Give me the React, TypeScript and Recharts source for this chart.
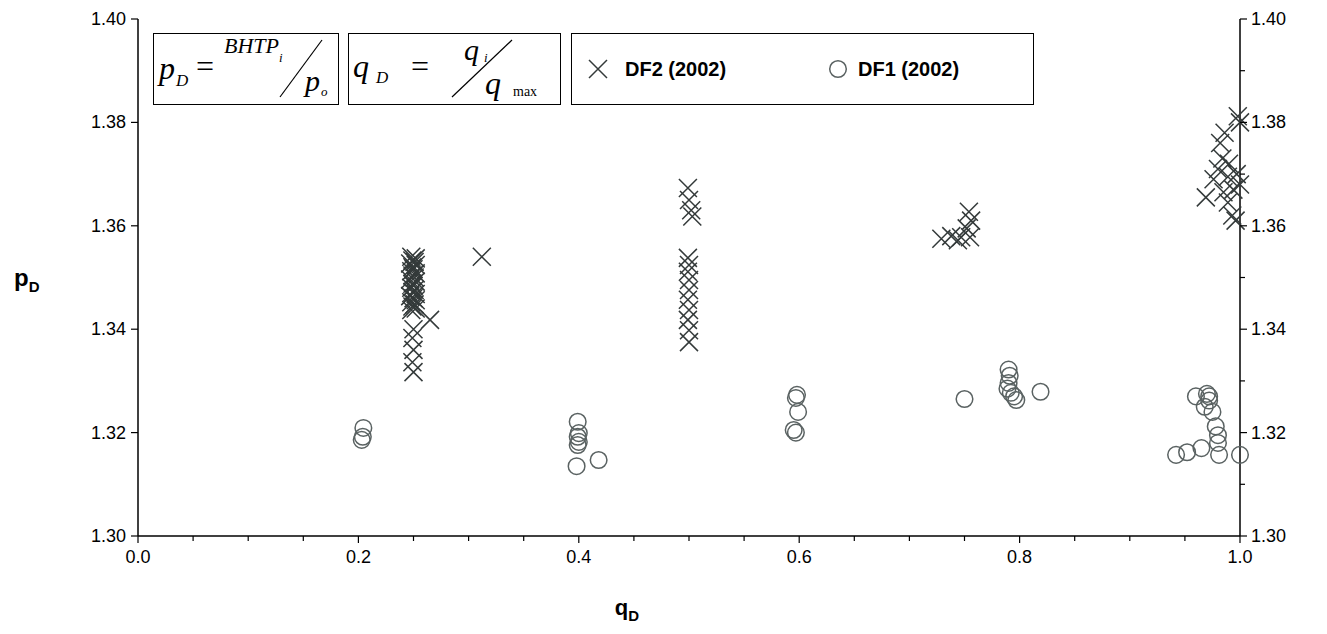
import { ScatterChart, Scatter, XAxis, YAxis } from "recharts";

// axis ticks
const xTicks = [0, 0.05, 0.1, 0.15, 0.2, 0.25, 0.3, 0.35, 0.4, 0.45, 0.5, 0.55, 0.6, 0.65, 0.7, 0.75, 0.8, 0.85, 0.9, 0.95, 1.0];
const xLabels = [0, 0.2, 0.4, 0.6, 0.8, 1.0];
const yLeftTicks = [1.30, 1.32, 1.34, 1.36, 1.38, 1.40];
const yRightTicks = [1.30, 1.31, 1.32, 1.33, 1.34, 1.35, 1.36, 1.37, 1.38, 1.39, 1.40];

// DF2 (2002) - crosses
const df2Points = [
  { q: 0.248, p: 1.3540 }, { q: 0.252, p: 1.3537 }, { q: 0.249, p: 1.3533 }, { q: 0.251, p: 1.3530 },
  { q: 0.247, p: 1.3527 }, { q: 0.252, p: 1.3524 }, { q: 0.249, p: 1.3520 }, { q: 0.250, p: 1.3516 },
  { q: 0.248, p: 1.3512 }, { q: 0.252, p: 1.3508 }, { q: 0.249, p: 1.3504 }, { q: 0.251, p: 1.3500 },
  { q: 0.247, p: 1.3496 }, { q: 0.252, p: 1.3492 }, { q: 0.249, p: 1.3488 }, { q: 0.250, p: 1.3484 },
  { q: 0.248, p: 1.3480 }, { q: 0.251, p: 1.3476 }, { q: 0.249, p: 1.3472 }, { q: 0.252, p: 1.3468 },
  { q: 0.247, p: 1.3464 }, { q: 0.250, p: 1.3460 }, { q: 0.252, p: 1.3456 }, { q: 0.248, p: 1.3452 },
  { q: 0.251, p: 1.3448 }, { q: 0.249, p: 1.3444 }, { q: 0.252, p: 1.3440 }, { q: 0.248, p: 1.3437 },
  { q: 0.250, p: 1.3400 }, { q: 0.249, p: 1.3383 }, { q: 0.250, p: 1.3360 }, { q: 0.249, p: 1.3336 }, { q: 0.250, p: 1.3317 },
  { q: 0.265, p: 1.3418 },
  { q: 0.312, p: 1.3540 },
  { q: 0.499, p: 1.3673 }, { q: 0.500, p: 1.3650 }, { q: 0.502, p: 1.3630 }, { q: 0.503, p: 1.3618 },
  { q: 0.499, p: 1.3538 }, { q: 0.500, p: 1.3524 }, { q: 0.499, p: 1.3511 }, { q: 0.500, p: 1.3495 },
  { q: 0.500, p: 1.3476 }, { q: 0.499, p: 1.3457 }, { q: 0.500, p: 1.3437 }, { q: 0.499, p: 1.3418 },
  { q: 0.500, p: 1.3398 }, { q: 0.500, p: 1.3375 },
  { q: 0.729, p: 1.3575 }, { q: 0.738, p: 1.3580 }, { q: 0.747, p: 1.3578 }, { q: 0.744, p: 1.3572 },
  { q: 0.754, p: 1.3627 }, { q: 0.756, p: 1.3610 }, { q: 0.752, p: 1.3595 }, { q: 0.755, p: 1.3578 },
  { q: 0.969, p: 1.3655 }, { q: 0.976, p: 1.3690 }, { q: 0.980, p: 1.3710 }, { q: 0.984, p: 1.3730 },
  { q: 0.982, p: 1.3760 }, { q: 0.986, p: 1.3780 }, { q: 0.990, p: 1.3720 }, { q: 0.989, p: 1.3695 },
  { q: 0.994, p: 1.3670 }, { q: 0.993, p: 1.3620 }, { q: 0.989, p: 1.3645 }, { q: 1.000, p: 1.3800 },
  { q: 0.998, p: 1.3812 }, { q: 0.997, p: 1.3700 }, { q: 1.000, p: 1.3680 }, { q: 0.996, p: 1.3610 },
  { q: 0.985, p: 1.3665 },
];

// DF1 (2002) - circles
const df1Points = [
  { q: 0.2045, p: 1.3209 }, { q: 0.204, p: 1.3192 }, { q: 0.203, p: 1.3186 },
  { q: 0.399, p: 1.3221 }, { q: 0.400, p: 1.3199 }, { q: 0.399, p: 1.3192 }, { q: 0.400, p: 1.3182 },
  { q: 0.399, p: 1.3176 }, { q: 0.398, p: 1.3135 }, { q: 0.418, p: 1.3147 },
  { q: 0.598, p: 1.3273 }, { q: 0.597, p: 1.3267 }, { q: 0.599, p: 1.3240 }, { q: 0.595, p: 1.3205 }, { q: 0.597, p: 1.3200 },
  { q: 0.750, p: 1.3265 },
  { q: 0.790, p: 1.3322 }, { q: 0.791, p: 1.3310 }, { q: 0.790, p: 1.3296 }, { q: 0.789, p: 1.3285 },
  { q: 0.792, p: 1.3277 }, { q: 0.795, p: 1.3270 }, { q: 0.797, p: 1.3263 }, { q: 0.819, p: 1.3279 },
  { q: 0.942, p: 1.3157 }, { q: 0.952, p: 1.3162 }, { q: 0.960, p: 1.3270 }, { q: 0.965, p: 1.3170 },
  { q: 0.968, p: 1.3250 }, { q: 0.970, p: 1.3275 }, { q: 0.972, p: 1.3270 }, { q: 0.972, p: 1.3262 },
  { q: 0.975, p: 1.3240 }, { q: 0.978, p: 1.3212 }, { q: 0.980, p: 1.3195 }, { q: 0.980, p: 1.3180 },
  { q: 0.981, p: 1.3157 }, { q: 1.000, p: 1.3157 },
];

const W = 1327;
const H = 634;
const font = '"Liberation Sans", Arial, sans-serif';
const serif = '"Liberation Serif", "Times New Roman", serif';

const isMajor = (v: number, list: number[]) => list.some((m) => Math.abs(m - v) < 1e-6);

const XTick = (props: any) => {
  const { x, y, payload } = props;
  const major = isMajor(payload.value, xLabels);
  return (
    <g>
      <line x1={x} y1={y} x2={x} y2={y + (major ? 7 : 5)} stroke="#000" strokeWidth={1.2} />
      {major && (
        <text x={x} y={y + 27} textAnchor="middle" fontFamily={font} fontSize={18} fill="#000">
          {payload.value.toFixed(1)}
        </text>
      )}
    </g>
  );
};

const LeftTick = (props: any) => {
  const { x, y, payload } = props;
  return (
    <g>
      <line x1={x} y1={y} x2={x - 7} y2={y} stroke="#000" strokeWidth={1.2} />
      <text x={x - 12} y={y + 6} textAnchor="end" fontFamily={font} fontSize={18} fill="#000">
        {payload.value.toFixed(2)}
      </text>
    </g>
  );
};

const RightTick = (props: any) => {
  const { x, y, payload } = props;
  const major = isMajor(payload.value, yLeftTicks);
  return (
    <g>
      <line x1={x} y1={y} x2={x + (major ? 7 : 5)} y2={y} stroke="#000" strokeWidth={1.2} />
      {major && (
        <text x={x + 11} y={y + 6} textAnchor="start" fontFamily={font} fontSize={18} fill="#000">
          {payload.value.toFixed(2)}
        </text>
      )}
    </g>
  );
};

const CrossShape = (props: any) => {
  const { cx, cy } = props;
  const s = 9;
  return (
    <path
      d={`M${cx - s},${cy - s}L${cx + s},${cy + s}M${cx - s},${cy + s}L${cx + s},${cy - s}`}
      stroke="#343a3a"
      strokeWidth={1.5}
      fill="none"
    />
  );
};

const CircleShape = (props: any) => {
  const { cx, cy } = props;
  return <circle cx={cx} cy={cy} r={8.3} stroke="#5a6262" strokeWidth={1.5} fill="none" />;
};

function Overlay() {
  return (
    <svg width={W} height={H} style={{ position: "absolute", left: 0, top: 0, pointerEvents: "none" }}>
      {/* formula box 1 */}
      <rect x={153.5} y={33.5} width={185} height={71} fill="#fff" stroke="#000" strokeWidth={1} />
      <text x={159} y={79} fontFamily={serif} fontStyle="italic" fontSize={32} fill="#000">p</text>
      <text x={176} y={86} fontFamily={serif} fontStyle="italic" fontSize={17} fill="#000">D</text>
      <text x={196} y={77} fontFamily={serif} fontSize={32} fill="#000">=</text>
      <text x={224} y={53} fontFamily={serif} fontStyle="italic" fontSize={22} fill="#000">BHTP</text>
      <text x={279} y={62} fontFamily={serif} fontStyle="italic" fontSize={13} fill="#000">i</text>
      <line x1={280} y1={97} x2={322} y2={40} stroke="#000" strokeWidth={1.2} />
      <text x={305} y={91} fontFamily={serif} fontStyle="italic" fontSize={30} fill="#000">p</text>
      <text x={321} y={96} fontFamily={serif} fontStyle="italic" fontSize={13} fill="#000">o</text>
      {/* formula box 2 */}
      <rect x={348.5} y={33.5} width={212} height={71} fill="#fff" stroke="#000" strokeWidth={1} />
      <text x={353} y={77} fontFamily={serif} fontStyle="italic" fontSize={32} fill="#000">q</text>
      <text x={376} y={83} fontFamily={serif} fontStyle="italic" fontSize={17} fill="#000">D</text>
      <text x={411} y={77} fontFamily={serif} fontSize={32} fill="#000">=</text>
      <text x={464} y={60} fontFamily={serif} fontStyle="italic" fontSize={30} fill="#000">q</text>
      <text x={484} y={62} fontFamily={serif} fontStyle="italic" fontSize={13} fill="#000">i</text>
      <line x1={452} y1={97} x2={512} y2={40} stroke="#000" strokeWidth={1.2} />
      <text x={485} y={94} fontFamily={serif} fontStyle="italic" fontSize={32} fill="#000">q</text>
      <text x={513} y={96} fontFamily={serif} fontSize={14} fill="#000">max</text>
      {/* legend box */}
      <rect x={571.5} y={33.5} width={462} height={71} fill="#fff" stroke="#000" strokeWidth={1} />
      <CrossShape cx={598} cy={69} />
      <text x={625} y={76} fontFamily={font} fontWeight="bold" fontSize={20} fill="#000">DF2 (2002)</text>
      <CircleShape cx={838} cy={69} />
      <text x={858} y={76} fontFamily={font} fontWeight="bold" fontSize={20} fill="#000">DF1 (2002)</text>
      {/* axis titles */}
      <text x={627} y={615} textAnchor="middle" fontFamily={font} fontWeight="bold" fontSize={22} fill="#000">
        q<tspan fontSize={15} dy={6}>D</tspan>
      </text>
      <text x={14} y={286} fontFamily={font} fontWeight="bold" fontSize={24} fill="#000">
        p<tspan fontSize={15} dy={6}>D</tspan>
      </text>
    </svg>
  );
}

export default function App() {
  return (
    <div style={{ position: "absolute", left: 0, top: 0, width: W, height: H, background: "#fff" }}>
      <ScatterChart width={W} height={H} margin={{ top: 19, right: 27, bottom: 58, left: 78 }}>
        <XAxis
          type="number"
          dataKey="q"
          domain={[0, 1]}
          ticks={xTicks}
          interval={0}
          tick={<XTick />}
          tickLine={false}
          tickSize={0}
          tickMargin={0}
          height={40}
          stroke="#000"
          strokeWidth={1.5}
        />
        <YAxis
          yAxisId="left"
          type="number"
          dataKey="p"
          domain={[1.3, 1.4]}
          ticks={yLeftTicks}
          interval={0}
          tick={<LeftTick />}
          tickLine={false}
          tickSize={0}
          tickMargin={0}
          width={60}
          stroke="#000"
          strokeWidth={1.5}
        />
        <YAxis
          yAxisId="right"
          orientation="right"
          type="number"
          dataKey="p"
          domain={[1.3, 1.4]}
          ticks={yRightTicks}
          interval={0}
          tick={<RightTick />}
          tickLine={false}
          tickSize={0}
          tickMargin={0}
          width={60}
          stroke="#000"
          strokeWidth={1.5}
        />
        <Scatter yAxisId="left" data={df2Points} shape={<CrossShape />} isAnimationActive={false} />
        <Scatter yAxisId="right" data={df1Points} shape={<CircleShape />} isAnimationActive={false} />
      </ScatterChart>
      <Overlay />
    </div>
  );
}
